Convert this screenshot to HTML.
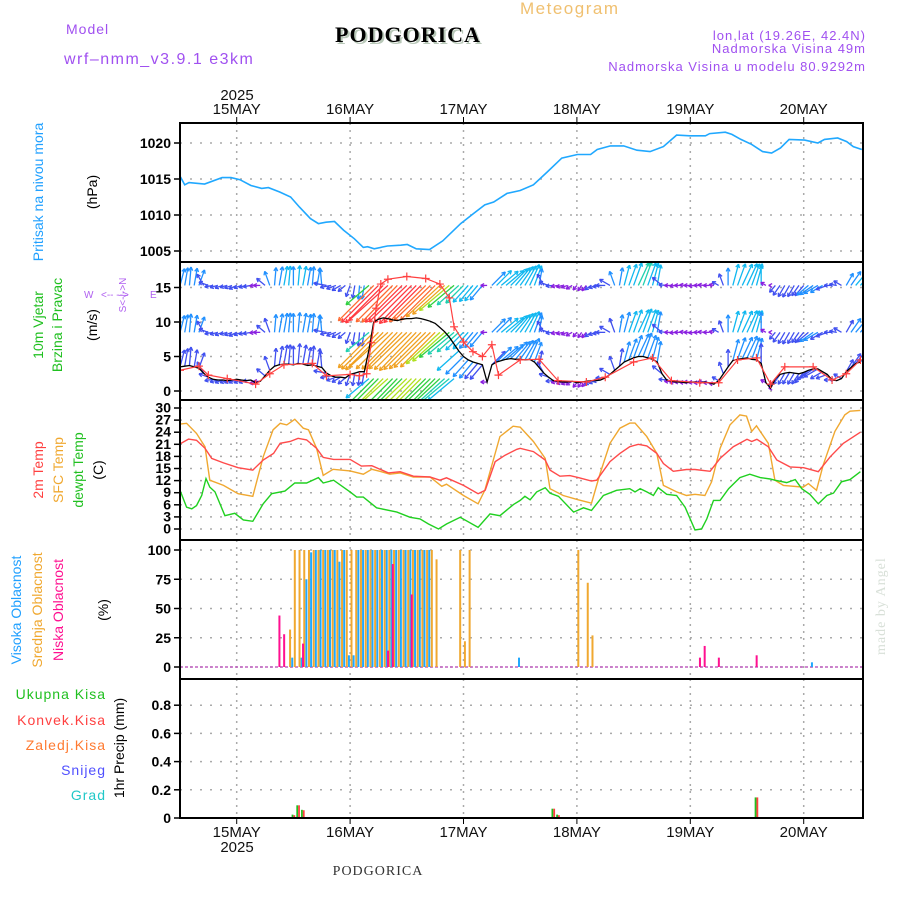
<!DOCTYPE html>
<html><head><meta charset="utf-8">
<style>
html,body{margin:0;padding:0;background:#fff;}
svg{display:block;font-family:"Liberation Sans",sans-serif;}
.tk{font-size:14px;font-weight:bold;fill:#000;}
.dt{font-size:15px;fill:#111;}
</style></head>
<body>
<svg id="chart" width="900" height="900" viewBox="0 0 900 900">
<defs>
<clipPath id="cp1"><rect x="180" y="123" width="683" height="139"/></clipPath>
<clipPath id="cp2"><rect x="180" y="262" width="683" height="138"/></clipPath>
<clipPath id="cp3"><rect x="180" y="400" width="683" height="140"/></clipPath>
<clipPath id="cp4"><rect x="180" y="540" width="683" height="139"/></clipPath>
<clipPath id="cp5"><rect x="180" y="679" width="683" height="139"/></clipPath>
</defs>
<!-- header -->
<text x="520" y="14" font-size="17" fill="#f0c070" letter-spacing="1.5">Meteogram</text>
<text x="66" y="34" font-size="14" fill="#a050f0" letter-spacing="1">Model</text>
<text x="64" y="64" font-size="16" fill="#a050f0" letter-spacing="1.5">wrf–nmm_v3.9.1 e3km</text>
<text x="410" y="44" font-size="22" font-weight="bold" text-anchor="middle" fill="#b8c8b8" font-family="Liberation Serif, serif" letter-spacing="1">PODGORICA</text>
<text x="408" y="42" font-size="22" font-weight="bold" text-anchor="middle" fill="#000" font-family="Liberation Serif, serif" letter-spacing="1">PODGORICA</text>
<text x="866" y="40" font-size="13" fill="#a050f0" text-anchor="end" letter-spacing="1">lon,lat (19.26E, 42.4N)</text>
<text x="866" y="53" font-size="13" fill="#a050f0" text-anchor="end" letter-spacing="1">Nadmorska Visina 49m</text>
<text x="866" y="71" font-size="13" fill="#a050f0" text-anchor="end" letter-spacing="1">Nadmorska Visina u modelu 80.9292m</text>
<text x="237" y="100" class="dt" text-anchor="middle">2025</text>
<text x="237" y="852" class="dt" text-anchor="middle">2025</text>
<text x="378" y="875" font-size="14" text-anchor="middle" fill="#333" font-family="Liberation Serif, serif" letter-spacing="1">PODGORICA</text>
<text transform="translate(885,655) rotate(-90)" font-size="14" fill="#d8e0d8" font-family="Liberation Serif, serif" letter-spacing="1">made by Angel</text>
<!-- left labels -->
<text transform="translate(43,192) rotate(-90)" font-size="14" fill="#20a0ff" text-anchor="middle">Pritisak na nivou mora</text>
<text transform="translate(97,192) rotate(-90)" font-size="14" fill="#000" text-anchor="middle">(hPa)</text>
<text transform="translate(43,325) rotate(-90)" font-size="14" fill="#20c020" text-anchor="middle">10m Vjetar</text>
<text transform="translate(62,325) rotate(-90)" font-size="14" fill="#20c020" text-anchor="middle">Brzina i Pravac</text>
<text transform="translate(97,325) rotate(-90)" font-size="14" fill="#000" text-anchor="middle">(m/s)</text>
<g fill="#b060f0" font-size="10">
<text x="84" y="298">W</text><text x="101" y="298">&lt;-- --&gt;</text><text x="150" y="298">E</text>
<text transform="translate(126,295) rotate(-90)" text-anchor="middle">S&lt;-|-&gt;N</text>
</g>
<text transform="translate(43,470) rotate(-90)" font-size="14" fill="#ff4040" text-anchor="middle">2m Temp</text>
<text transform="translate(63,470) rotate(-90)" font-size="14" fill="#f0a830" text-anchor="middle">SFC Temp</text>
<text transform="translate(83,470) rotate(-90)" font-size="14" fill="#20c020" text-anchor="middle">dewpt Temp</text>
<text transform="translate(103,470) rotate(-90)" font-size="14" fill="#000" text-anchor="middle">(C)</text>
<text transform="translate(21,610) rotate(-90)" font-size="14" fill="#20a0ff" text-anchor="middle">Visoka Oblacnost</text>
<text transform="translate(42,610) rotate(-90)" font-size="14" fill="#f0a830" text-anchor="middle">Srednja Oblacnost</text>
<text transform="translate(63,610) rotate(-90)" font-size="14" fill="#ff1090" text-anchor="middle">Niska Oblacnost</text>
<text transform="translate(108,610) rotate(-90)" font-size="14" fill="#000" text-anchor="middle">(%)</text>
<g font-size="14" text-anchor="end" letter-spacing="1">
<text x="106" y="699" fill="#20c020">Ukupna Kisa</text>
<text x="106" y="725" fill="#ff4040">Konvek.Kisa</text>
<text x="106" y="750" fill="#ff7a30">Zaledj.Kisa</text>
<text x="106" y="775" fill="#5050ff">Snijeg</text>
<text x="106" y="800" fill="#20c8c8">Grad</text>
</g>
<text transform="translate(124,748) rotate(-90)" font-size="14" fill="#000" text-anchor="middle">1hr Precip (mm)</text>
<g id="layer"></g>
</svg>
<script>
// ---- data (hours since 14 May 12Z) ----
const dayLabels = ["15MAY","16MAY","17MAY","18MAY","19MAY","20MAY"];
const dayHours = [12,36,60,84,108,132];
const presT = [0,1,1.9,5.2,8.9,10.8,12.7,15,17.3,18.7,21.1,23.4,25.3,27.6,29.3,30.9,32.7,34.6,36.9,38.8,39.7,41.1,43.9,46.7,48.1,50,52.8,55.6,59.4,62.1,64.5,66.4,69.2,72,74.8,77.6,80.8,84.1,86.9,88.3,91.1,93.9,96.7,99.5,102.3,105.1,107.9,111.2,112.1,115.4,116.8,118.7,121,123.3,125.2,127.1,128.9,132.2,135,136.4,139.2,141.1,142.5,144.3];
const presV = [1015.4,1014.2,1014.5,1014.3,1015.2,1015.2,1014.9,1014.1,1013.7,1013.8,1013.2,1012.5,1011.1,1009.5,1008.8,1009.0,1009.1,1007.9,1006.7,1005.5,1005.6,1005.3,1005.7,1005.8,1005.9,1005.3,1005.2,1006.4,1008.8,1010.2,1011.4,1011.8,1013.0,1013.4,1014.2,1015.9,1017.9,1018.4,1018.4,1019.1,1019.6,1019.6,1019.0,1018.8,1019.5,1021.1,1021.0,1021.0,1021.3,1021.5,1021.2,1020.5,1019.8,1018.8,1018.6,1019.3,1020.5,1020.4,1020.0,1020.5,1020.7,1020.2,1019.5,1019.1];
const windSpeed = [3.5,3.6,3.7,3.5,3.3,2.6,2.0,1.7,1.6,1.6,1.5,1.6,1.7,1.6,1.5,1.6,1.2,1.4,2.2,3.0,3.6,3.8,3.9,3.9,3.8,4.0,3.9,3.7,3.8,3.6,3.4,2.6,2.2,2.0,2.0,1.9,2.4,2.6,2.8,2.8,6.0,10.0,10.4,10.6,10.5,10.3,10.2,10.4,10.5,10.5,10.6,10.5,10.3,10.1,9.8,9.2,8.6,7.8,6.8,5.8,5.0,4.5,4.2,4.0,3.8,1.3,3.8,4.2,4.4,4.6,4.7,4.6,4.6,4.5,4.6,4.2,3.4,2.6,2.0,1.5,1.4,1.3,1.3,1.4,1.2,1.3,1.4,1.5,1.5,1.6,1.9,2.4,3.0,3.6,4.2,4.5,4.8,5.0,5.0,4.8,4.6,4.2,2.5,1.6,1.4,1.3,1.3,1.2,1.3,1.3,1.2,1.3,1.2,1.0,1.5,2.5,3.5,4.4,4.6,4.7,4.8,4.6,4.5,4.0,1.2,0.4,1.8,2.4,2.6,2.7,2.6,2.5,2.7,3.0,3.2,3.2,2.8,2.4,1.6,1.5,1.8,2.8,3.4,4.0,4.2];
const windDir = [195,190,185,190,200,150,110,80,75,70,75,70,65,70,75,80,85,90,130,160,185,190,190,185,180,185,190,190,185,190,175,100,80,70,60,50,20,10,5,10,50,45,45,45,48,45,44,45,46,45,44,45,45,46,45,47,48,50,50,48,45,42,40,40,40,90,225,225,230,230,225,220,215,210,205,200,190,150,110,85,80,75,70,60,40,35,40,55,70,80,90,120,160,190,195,200,200,205,200,200,195,190,130,95,90,85,90,95,90,85,90,95,90,100,120,160,180,195,200,205,205,200,195,180,120,90,40,35,30,30,30,35,40,50,55,60,60,70,90,100,120,210,215,220,220];
const gustT = [0,4,6,10,16,19,22,28,31,36,38,39.5,40.5,41.5,42.5,44,48,52,55,57,58,60,62,64,66,67.4,72,76,80,86,90,96,100,104,110,114,118,122,125,128,134,138,141,144];
const gustV = [3.0,3.6,2.3,1.8,1.0,2.5,3.8,4.0,2.2,2.4,2.2,2.5,7,12,15.5,16.2,16.6,16.3,15.5,13.5,9.3,7.1,5.7,5.0,6.7,2.3,4.5,4.6,1.5,1.3,2.0,4.2,4.8,1.5,1.2,1.2,4.5,4.8,1.0,3.5,3.5,1.6,2.5,4.5];
const sfcT = [0,1.4,3.5,5.3,6.3,9.2,12.3,15.4,17.6,19.7,21.2,22.6,24.3,26.1,27.2,28.9,30.3,32.4,36,38.8,40.6,42.3,44.4,46.6,49.4,52.9,55.4,56.4,60,63.1,64.5,67.7,70.5,72,74.8,77.3,78.3,81.1,84.3,87.1,88.9,91,93.1,95.2,96.3,98.8,100.9,102.3,105.1,107.2,109,111.1,112.5,114.3,116.4,118.5,119.9,121,122,124.5,125.9,127.7,131.9,133,134.7,136.1,138.6,140.7,141.8,144];
const sfcV = [26,26.2,23.7,20.4,12.1,10.8,8.75,8.1,17.9,24.6,26.2,25.8,27.2,25,24.6,20,13.3,14.8,14.4,13.6,14.8,14.3,13.6,13.9,12.9,12.9,10.6,11.1,8.3,6.25,9.6,22.9,25.5,25.25,21.7,17.5,10,8.3,7.25,6.4,13.75,21.25,25,26.25,26.25,22.9,18.75,10.8,9.2,8.3,8.6,8.3,11.7,20,25.8,28.3,28,24.2,25.6,21.25,12.1,10.8,10.4,11.25,9.6,15.8,24.2,28.3,29.2,29.4];
const t2T = [0,1.8,3.5,5.3,6.7,9.2,12.3,15.4,17.6,19.8,21.2,23.3,25,26.8,28.9,30.3,32.5,36,38.4,40.6,44.1,46.6,49.4,52.9,55,56.4,60,63.1,64.6,66.7,68.8,71.3,72,74.8,77.3,78.3,80.4,82.5,84.3,87.1,88.2,91,93.1,95.2,97,98.8,100.9,102.3,104.4,107.2,109,112.2,114.3,117.1,120,121,122.1,124.5,126.3,129.1,132,135.1,137.6,140.4,144];
const t2V = [21.1,22.3,22,20,17.5,16.4,15.2,14.6,17.1,18.75,21.25,21.7,22.5,22.1,20,17.75,17.25,17.25,15.6,15.7,13.9,14.2,13.1,12.9,12.1,12.7,10.8,8.75,9.6,16.7,18.3,19.75,20,19.2,17.1,14.6,13.1,13.25,12.75,11.9,12.1,16.7,18.75,20.4,21,20.6,18.75,16.25,14.3,14.75,14.75,14.3,17.5,20.4,22.25,21.7,22.25,20.4,17.1,15.4,15.2,14.2,17.9,21.25,24];
const dewT = [0,1.4,2.5,3.5,4.6,5.5,6.3,7.4,9.5,11.6,13.4,15.4,17.6,19.4,22.2,24.3,26.8,29.3,30.3,32.5,36,37.4,38.8,41.6,45.9,48.7,50.8,52.6,54.7,56.4,59.3,63.1,65.6,67.7,70.6,72,73.0,74.1,75.5,77.3,78.3,80.1,83.3,85.4,87.1,89.6,92.4,95.2,96.3,97.4,98.8,100.2,101.2,103,105.1,106.9,109,110.4,111.5,112.9,114.3,116.1,118.5,120.6,122.8,124.9,125.9,128.4,130.2,131.6,133.3,135.1,136.9,138.3,140.0,141.8,144];
const dewV = [9.6,5.4,5,5.8,8.3,12.5,10.4,9.2,3.3,3.9,2.25,1.9,6.25,8.75,9.4,11.4,11.4,12.75,11.4,12.1,9.2,7.9,7.9,5.25,4.2,2.9,2.5,1.25,0,1.25,2.9,0.4,3.75,3.3,6.1,7.1,8.1,7.25,9.2,10.25,8.9,8.1,4.2,5.25,4.6,8.3,9.6,10,9.2,10,9.2,8.3,10.25,8.6,8.3,5.4,-0.25,0,2.5,7.1,7.1,10,12.75,13.6,12.75,12.4,12.1,11.5,12.25,10,8.6,6.25,8.3,8.9,11.7,12.25,14.2];
const highCloudT = [24,26,27,28,29,30,31,32,33,34,35,36,37,38,39,40,41,42,43,44,45,46,47,48,49,50,51,52,53,72,134];
const highCloudV = [8,8,75,98,100,100,100,100,100,90,100,10,10,100,100,100,100,100,100,100,100,100,100,100,100,100,100,100,100,8,4];
const midCloudT = [23,24,25,26,27,28,29,30,31,32,33,34,35,36,37,38,39,40,41,42,43,44,45,46,47,48,49,50,51,52,53,54,59,60,61,84,86,87];
const midCloudV = [32,100,100,100,100,100,100,100,100,100,100,100,100,100,100,100,100,100,100,100,100,100,100,100,100,100,100,100,100,100,100,92,100,22,100,100,72,27];
const lowCloudT = [21,22,26,44,45,49,110,111,114,122];
const lowCloudV = [44,28,20,14,88,62,8,18,8,10];
const precipT = [24,25,26,79,80,122];
const precipTotal = [0.024,0.09,0.058,0.066,0.024,0.146];
const precipConv = [0.02,0.09,0.055,0.066,0.02,0.146];
const presTicks = [1005,1010,1015,1020];
const windTicks = [0,5,10,15];
const tempTicks = [0,3,6,9,12,15,18,21,24,27,30];
const cloudTicks = [0,25,50,75,100];
const precipTicks = [0,0.2,0.4,0.6,0.8];

// ---- scales ----
const X0=180, X1=863, H1=144.55;
const xs = h => X0 + h*(X1-X0)/H1;
const yP = v => 251 - (v-1005)*7.2;
const yW = v => 391 - v*6.9;
const yT = v => 529 - v*4.033;
const yC = v => 667 - v*1.17;
const yR = v => 818 - v*141;
const NS="http://www.w3.org/2000/svg";
const layer=document.getElementById('layer');
function mk(tag, attrs, parent){const e=document.createElementNS(NS,tag);for(const k in attrs)e.setAttribute(k,attrs[k]);(parent||layer).appendChild(e);return e;}
function grp(name, clip){const g=mk('g',{});if(clip)g.setAttribute('clip-path','url(#'+clip+')');return g;}

// grids and ticks
const panels=[[123,262,presTicks,yP,v=>String(v),'pressure'],[262,400,windTicks,yW,v=>String(v),'wind'],[400,540,tempTicks,yT,v=>String(v),'temp'],[540,679,cloudTicks,yC,v=>String(v),'cloud'],[679,818,precipTicks,yR,v=>String(v),'precip']];
panels.forEach(p=>{
  const g=grp(p[5]+'-axis');
  p[2].forEach(v=>{
    const y=p[3](v);
    mk('line',{x1:X0,x2:X1,y1:y,y2:y,stroke:'#aaa','stroke-width':1.5,'stroke-dasharray':'2,8'},g);
    mk('line',{x1:X0-6,x2:X0,y1:y,y2:y,stroke:'#000','stroke-width':1.5},g);
    const t=mk('text',{x:X0-9,y:y+5,'text-anchor':'end','class':'tk'},g);
    if(p[5]==='temp'){t.setAttribute('font-size','13');t.setAttribute('y',y+4.5);}
    t.textContent=p[4](v);
  });
  dayHours.forEach(h=>{
    mk('line',{x1:xs(h),x2:xs(h),y1:p[0],y2:p[1],stroke:'#aaa','stroke-width':1.5,'stroke-dasharray':'2,5'},g);
  });
});
// day labels
const dl=grp('date-labels');
dayHours.forEach((h,i)=>{
  const t1=mk('text',{x:xs(h),y:114,'text-anchor':'middle','class':'dt'},dl);t1.textContent=dayLabels[i];
  
  const t2=mk('text',{x:xs(h),y:837,'text-anchor':'middle','class':'dt'},dl);t2.textContent=dayLabels[i];
  
  mk('line',{x1:xs(h),x2:xs(h),y1:117,y2:123,stroke:'#000'},dl);
  mk('line',{x1:xs(h),x2:xs(h),y1:818,y2:824,stroke:'#000'},dl);
});

function line(T,V,ys,color,name,clip,w){
  const g=grp(name,clip);
  const pts=T.map((t,i)=>xs(t).toFixed(1)+','+ys(V[i]).toFixed(1)).join(' ');
  const pl=mk('polyline',{points:pts,fill:'none',stroke:color,'stroke-width':w||1.4},g);
  
  
  return g;
}
// pressure
line(presT,presV,yP,'#20a8ff','pressure-line','cp1',1.6);

// wind
function wcol(s){
  if(s<1.5)return '#8a20e0'; if(s<2.5)return '#4050f0'; if(s<3.5)return '#2090ff';
  if(s<4.5)return '#10b8f0'; if(s<5.5)return '#20d0b0'; if(s<6.5)return '#30d040';
  if(s<7.5)return '#b0e020'; if(s<8.5)return '#f0a020'; if(s<9.5)return '#ff6a30';
  if(s<10.5)return '#ff3a40'; return '#ff1090';
}
const wg=grp('wind-vectors','cp2');
const rowF=[0.92,0.8,0.62];
windSpeed.forEach((s,i)=>{
  const x=xs(i);
  const to=(windDir[i]+180)*Math.PI/180;
  const L=5*s;
  const dx=Math.sin(to)*L, dy=-Math.cos(to)*L;
  const bases=[15.3,8.5, s<6? s: 1.8];
  bases.forEach((b,r)=>{
    const y=yW(b), c=wcol(s*rowF[r]<1.5&&s>=1.5?1.6:s*rowF[r]);
    const x2=x+dx,y2=y+dy;
    const a=mk('g',{},wg);
    
    
    mk('line',{x1:x,y1:y,x2:x2,y2:y2,stroke:c,'stroke-width':1.3},a);
    const ang=Math.atan2(dy,dx);
    [0.5,-0.5].forEach(o=>{
      mk('line',{x1:x2,y1:y2,x2:x2-4*Math.cos(ang+o),y2:y2-4*Math.sin(ang+o),stroke:c,'stroke-width':1.3},a);
    });
  });
});
line(windSpeed.map((s,i)=>i),windSpeed,yW,'#000','wind-speed-line','cp2',1.3);
const gl=line(gustT,gustV,yW,'#ff4040','wind-gust-line','cp2',1.2);
gustT.forEach((t,i)=>{
  const x=xs(t),y=yW(gustV[i]);
  const c=mk('path',{d:`M${x-4},${y}H${x+4}M${x},${y-4}V${y+4}`,stroke:'#ff4040','stroke-width':1.2},gl);
  
  
});

// temperatures
line(sfcT,sfcV,yT,'#f0a830','sfc-temp-line','cp3',1.4);
line(t2T,t2V,yT,'#ff4a4a','temp-2m-line','cp3',1.4);
line(dewT,dewV,yT,'#20d020','dewpoint-line','cp3',1.4);

// clouds
const cg=grp('cloud-bars','cp4');
mk('line',{x1:X0,x2:X1,y1:667,y2:667,stroke:'#c060c0','stroke-width':1.5,'stroke-dasharray':'3,2'},cg);
function bars(T,V,off,color,name){
  T.forEach((t,i)=>{
    const y=yC(V[i]);
    const b=mk('rect',{x:xs(t)+off,y:y,width:2,height:667-y,fill:color},cg);
    
    
  });
}
bars(highCloudT,highCloudV,-2.2,'#20a8ff','high-cloud-bar');
bars(midCloudT,midCloudV,0.4,'#f0a830','mid-cloud-bar');
bars(lowCloudT,lowCloudV,-0.8,'#ff1090','low-cloud-bar');

// precipitation
const pg=grp('precip-bars','cp5');
precipT.forEach((t,i)=>{
  let y=yR(precipTotal[i]);
  const b1=mk('rect',{x:xs(t)-1.8,y:y,width:1.8,height:818-y,fill:'#20c020'},pg);
  
  
  y=yR(precipConv[i]);
  const b2=mk('rect',{x:xs(t),y:y,width:1.8,height:818-y,fill:'#ff4040'},pg);
  
  
});

// frame
const fr=grp('plot-frame');
mk('rect',{x:X0,y:123,width:X1-X0,height:695,fill:'none',stroke:'#000','stroke-width':2},fr);
[262,400,540,679].forEach(y=>mk('line',{x1:X0,x2:X1,y1:y,y2:y,stroke:'#000','stroke-width':2},fr));
</script>
</body></html>
